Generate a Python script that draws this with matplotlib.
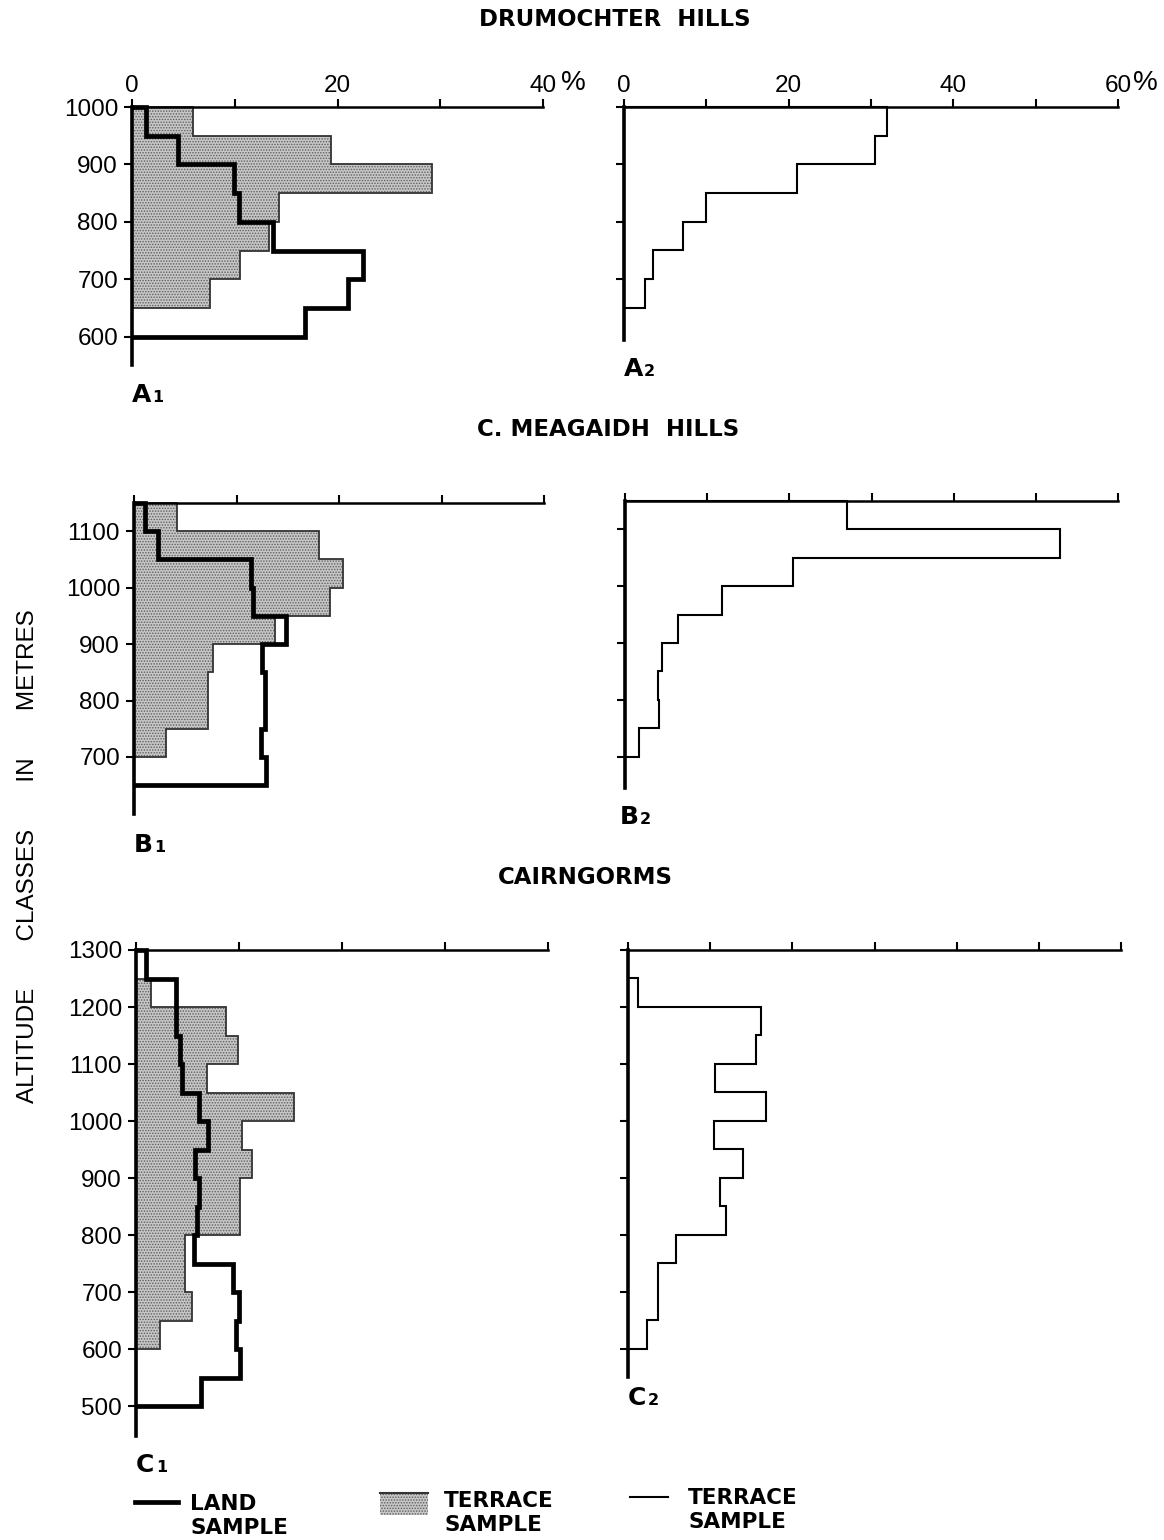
import numpy as np
import matplotlib
matplotlib.use("Agg")
import matplotlib.pyplot as plt
from matplotlib.patches import Rectangle

plt.rcParams['font.family'] = ['Liberation Sans', 'DejaVu Sans']
plt.rcParams['hatch.linewidth'] = 0.7

W, H = 1164, 1540

# percentage of each 50 m altitude class, listed from the lowest class upward
# Drumochter Hills
a_land_edges = np.arange(600, 1001, 50)
a_land = [16.8, 21.0, 22.5, 13.7, 10.4, 9.9, 4.5, 1.4]
a_terr_edges = np.arange(650, 1001, 50)
a_terr = [7.6, 10.5, 13.3, 14.3, 29.2, 19.4, 5.9]
a2_terr = [2.5, 3.5, 7.2, 10.0, 21.0, 30.5, 32.0]

# Creag Meagaidh hills
b_land_edges = np.arange(650, 1151, 50)
b_land = [12.9, 12.4, 12.8, 12.8, 12.5, 14.8, 11.6, 11.4, 2.3, 1.1]
b_terr_edges = np.arange(700, 1151, 50)
b_terr = [3.1, 7.2, 7.2, 7.7, 13.8, 19.1, 20.4, 18.0, 4.2]
b2_terr = [1.7, 4.1, 4.0, 4.5, 6.5, 11.8, 20.5, 52.9, 27.0]

# Cairngorms
c_land_edges = np.arange(500, 1301, 50)
c_land = [6.3, 10.1, 9.7, 10.0, 9.4, 5.6, 5.9, 6.1, 5.7, 7.0, 6.1, 4.5, 4.3,
          3.9, 3.9, 1.0]
c_terr_edges = np.arange(600, 1251, 50)
c_terr = [2.3, 5.4, 4.8, 4.8, 10.1, 10.1, 11.3, 10.3, 15.3, 6.9, 9.9, 8.7, 1.5]
c2_terr = [2.3, 3.7, 3.6, 5.9, 11.9, 11.2, 14.0, 10.5, 16.8, 10.6, 15.6, 16.2,
           1.2]

titles = ["DRUMOCHTER  HILLS", "C. MEAGAIDH  HILLS", "CAIRNGORMS"]

STIPPLE = dict(facecolor='#c6c6c6', edgecolor='#5e5e5e', hatch='......')

fig = plt.figure(figsize=(W / 100, H / 100), dpi=100)

# full-figure overlay in pixel units for titles, labels and the key
ov = fig.add_axes([0, 0, 1, 1])
ov.set_xlim(0, W)
ov.set_ylim(H, 0)
ov.axis('off')


def panel(left, right, top, bottom, xmax, ylo, yhi, yticks,
          ylabels=True, xlabels=False):
    ax = fig.add_axes([left / W, 1 - bottom / H, (right - left) / W,
                       (bottom - top) / H])
    ax.set_xlim(0, xmax)
    ax.set_ylim(ylo, yhi)
    ax.patch.set_visible(False)
    ax.spines['right'].set_visible(False)
    ax.spines['bottom'].set_visible(False)
    ax.spines['top'].set_linewidth(1.8)
    ax.spines['left'].set_linewidth(2.6)
    ax.xaxis.tick_top()
    xt = np.arange(0, xmax + 1, 10)
    ax.set_xticks(xt)
    if xlabels:
        ax.set_xticklabels([str(v) if v % 20 == 0 else '' for v in xt])
    else:
        ax.set_xticklabels([])
    ax.set_yticks(yticks)
    if ylabels:
        ax.set_yticklabels([str(v) for v in yticks])
    else:
        ax.set_yticklabels([])
    ax.tick_params(axis='both', direction='out', length=6, width=1.5,
                   labelsize=17.5, pad=4)
    ax.tick_params(axis='x', pad=1.5)
    return ax


def shaded(ax, vals, edges):
    ax.stairs(vals, edges, orientation='horizontal', baseline=0, fill=True,
              linewidth=0, clip_on=False, **STIPPLE)
    ax.stairs(vals, edges, orientation='horizontal', baseline=0,
              color='#333333', linewidth=1.3, clip_on=False)


def land(ax, vals, edges):
    ax.stairs(vals, edges, orientation='horizontal', baseline=0,
              color='black', linewidth=3.4, clip_on=False)


def thin(ax, vals, edges):
    ax.stairs(vals, edges, orientation='horizontal', baseline=0,
              color='black', linewidth=1.5, clip_on=False)


# row A
ax = panel(132, 543, 107, 365, 40, 551, 1000, [600, 700, 800, 900, 1000],
           xlabels=True)
shaded(ax, a_terr, a_terr_edges)
land(ax, a_land, a_land_edges)
ax = panel(624, 1118, 107, 340, 60, 594, 1000, [700, 800, 900, 1000],
           ylabels=False, xlabels=True)
thin(ax, a2_terr, a_terr_edges)

# row B
ax = panel(134, 544, 503, 814, 40, 599, 1150, [700, 800, 900, 1000, 1100])
shaded(ax, b_terr, b_terr_edges)
land(ax, b_land, b_land_edges)
ax = panel(625, 1118, 501, 788, 60, 645, 1150, [700, 800, 900, 1000, 1100],
           ylabels=False)
thin(ax, b2_terr, b_terr_edges)

# row C
ax = panel(136, 548, 950, 1436, 40, 448, 1300, list(range(500, 1301, 100)))
shaded(ax, c_terr, c_terr_edges)
land(ax, c_land, c_land_edges)
ax = panel(628, 1121, 950, 1377, 60, 550, 1300, list(range(600, 1301, 100)),
           ylabels=False)
thin(ax, c2_terr, c_terr_edges)

# percent signs after the last top labels
ov.text(573, 83, '%', fontsize=20, ha='center', va='center')
ov.text(1145, 83, '%', fontsize=20, ha='center', va='center')

# section titles
bold = dict(family='DejaVu Sans', fontweight='bold')
ov.text(615, 20, titles[0], fontsize=16.5, ha='center', va='center', **bold)
ov.text(608, 430, titles[1], fontsize=16.5, ha='center', va='center', **bold)
ov.text(585, 878, titles[2], fontsize=16.5, ha='center', va='center', **bold)

# panel letters with small digit
for letter, digit, x, yb in [('A', '1', 132, 402), ('A', '2', 624, 376),
                             ('B', '1', 134, 852), ('B', '2', 620, 824),
                             ('C', '1', 136, 1472), ('C', '2', 628, 1405)]:
    ov.text(x, yb, letter, fontsize=18, va='baseline', ha='left', **bold)
    ov.text(x + 20, yb, digit, fontsize=11.5, va='baseline', ha='left', **bold)

# shared altitude label
ov.text(28, 856, 'ALTITUDE       CLASSES       IN       METRES', rotation=90,
        fontsize=17.5, ha='center', va='center')

# key
ov.plot([135, 178], [1502, 1502], color='black', linewidth=3.4)
ov.text(190, 1516, 'LAND\nSAMPLE', fontsize=15.5, ha='left', va='center',
        linespacing=1.2, **bold)
ov.add_patch(Rectangle((380, 1493), 48, 22, linewidth=0, **STIPPLE))
ov.plot([380, 428], [1493, 1493], color='#333333', linewidth=1.5)
ov.text(444, 1513, 'TERRACE\nSAMPLE', fontsize=15.5, ha='left', va='center',
        linespacing=1.2, **bold)
ov.plot([630, 668], [1497, 1497], color='black', linewidth=1.5)
ov.text(688, 1510, 'TERRACE\nSAMPLE', fontsize=15.5, ha='left', va='center',
        linespacing=1.2, **bold)

fig.savefig('out.png', dpi=100)
